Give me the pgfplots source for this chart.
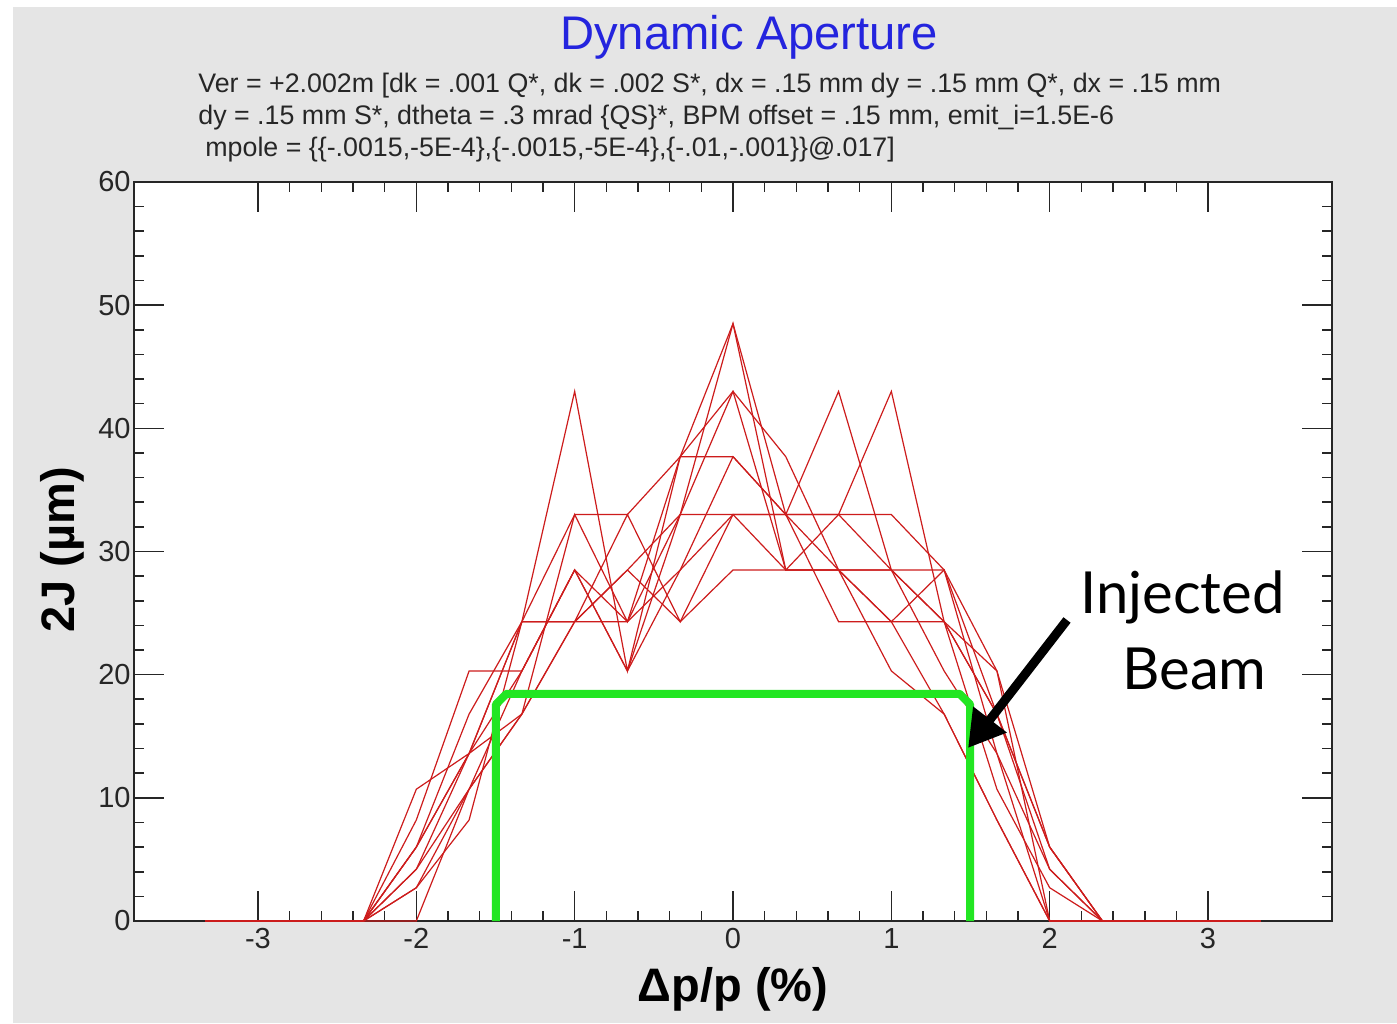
\documentclass[border=0pt]{standalone}
\usepackage{fontspec}
\setmainfont{Liberation Sans}
\newfontfamily\annotfont{Lato}
\usepackage{pgfplots}
\usepackage{pgfplotstable}
\pgfplotsset{compat=1.18}
\usetikzlibrary{arrows.meta}

\definecolor{darad}{RGB}{205,28,28}
\definecolor{bgray}{RGB}{229,229,229}
\definecolor{beamgreen}{RGB}{34,230,34}
\definecolor{titleblue}{RGB}{36,36,222}

% 2J limits per seed versus momentum offset (grid of 1/3 %)
\pgfplotstableread{
dp       A     B     C     D     E     F     G     H     I     J
-3.3333  0     0     0     0     0     0     0     0     0     0
-3.0     0     0     0     0     0     0     0     0     0     0
-2.6667  0     0     0     0     0     0     0     0     0     0
-2.3333  0     0     0     0     0     0     0     0     0     0
-2.0     2.7   6.0   4.2   8.2   10.7  0     6.0   4.2   2.7   6.0
-1.6667  8.2   16.8  13.6  20.3  13.6  10.7  13.6  10.7  10.7  13.6
-1.3333  24.3  24.3  24.3  20.3  16.8  16.8  20.3  16.8  20.3  24.3
-1.0     43.0  33.0  24.3  28.5  24.3  33.0  28.5  24.3  28.5  24.3
-0.6667  20.3  33.0  24.3  20.3  28.5  24.3  24.3  33.0  20.3  28.5
-0.3333  37.7  37.7  33.0  28.5  33.0  37.7  28.5  24.3  33.0  24.3
0.0      37.7  48.5  43.0  33.0  48.5  43.0  37.7  33.0  33.0  28.5
0.3333   33.0  33.0  37.7  28.5  28.5  28.5  33.0  33.0  33.0  28.5
0.6667   28.5  43.0  28.5  33.0  28.5  28.5  33.0  24.3  33.0  28.5
1.0      24.3  28.5  28.5  43.0  24.3  20.3  28.5  24.3  33.0  28.5
1.3333   16.8  20.3  24.3  24.3  28.5  16.8  24.3  24.3  28.5  28.5
1.6667   8.2   13.6  16.8  10.7  13.6  8.2   20.3  16.8  16.8  20.3
2.0      0     4.2   6.0   2.7   0     0     6.0   4.2   6.0   0
2.3333   0     0     0     0     0     0     0     0     0     0
2.6667   0     0     0     0     0     0     0     0     0     0
3.0      0     0     0     0     0     0     0     0     0     0
3.3333   0     0     0     0     0     0     0     0     0     0
}\datable

\begin{document}
\begin{tikzpicture}
\fill[white] (0,0) rectangle (698.5pt,511.5pt);
\fill[bgray] (6.5pt,0pt) rectangle (698.5pt,508pt);
\begin{axis}[
  at={(67pt,51pt)}, anchor=south west,
  scale only axis, width=599pt, height=369.5pt,
  xmin=-3.783, xmax=3.783, ymin=0, ymax=60,
  axis background/.style={fill=white},
  xtick={-3,-2,-1,0,1,2,3},
  ytick={0,10,20,30,40,50,60},
  minor x tick num=4, minor y tick num=4,
  tick align=inside,
  major tick length=15pt, minor tick length=5pt,
  axis line style={line width=1pt, black!85},
  every tick/.style={black!85, line width=0.8pt},
  /pgf/number format/assume math mode=true,
  tick label style={font=\fontsize{14.5}{16}\selectfont, black!85},
  yticklabel style={inner sep=1.5pt},
  clip=false,
]
\foreach \s in {A,B,C,D,E,F,G,H,I,J}{
  \addplot[darad, line width=0.6pt] table[x=dp, y=\s] {\datable};
}
\addplot[beamgreen, line width=4pt, line join=round]
  coordinates {(-1.497,0) (-1.497,17.6) (-1.43,18.45) (1.43,18.45) (1.497,17.6) (1.497,0)};
\end{axis}
\begin{scope}[x=0.5pt,y=-0.5pt,shift={(0pt,511.5pt)}]
  \node[anchor=base, text=titleblue, font=\fontsize{23.6}{26}\selectfont] at (749,50) {Dynamic Aperture};
  \begin{scope}[every node/.style={anchor=base west, inner sep=0pt, font=\fontsize{13.4}{15}\selectfont, text=black!85}]
    \node at (198,93) {Ver = +2.002m [dk = .001 Q*, dk = .002 S*, dx = .15 mm dy = .15 mm Q*, dx = .15 mm};
    \node at (198,125) {dy = .15 mm S*, dtheta = .3 mrad \{QS\}*, BPM offset = .15 mm, emit\_i=1.5E-6};
    \node at (205,157) {mpole = \{\{-.0015,-5E-4\},\{-.0015,-5E-4\},\{-.01,-.001\}\}@.017]};
  \end{scope}
  \node[rotate=90, font=\bfseries\fontsize{23.5}{26}\selectfont] at (62,550) {2J (µm)};
  \node[font=\bfseries\fontsize{23.5}{26}\selectfont] at (733,989) {Δp/p (\%)};
  \node[anchor=base west, inner sep=0pt, font=\annotfont\fontsize{29}{32}\selectfont] at (1080,614) {Injected};
  \node[anchor=base west, inner sep=0pt, font=\annotfont\fontsize{29}{32}\selectfont] at (1122,690) {Beam};
  \draw[line width=4.5pt, -{Triangle[length=18pt,width=20pt]}] (1067,620) -- (968,748);
\end{scope}
\end{tikzpicture}
\end{document}
